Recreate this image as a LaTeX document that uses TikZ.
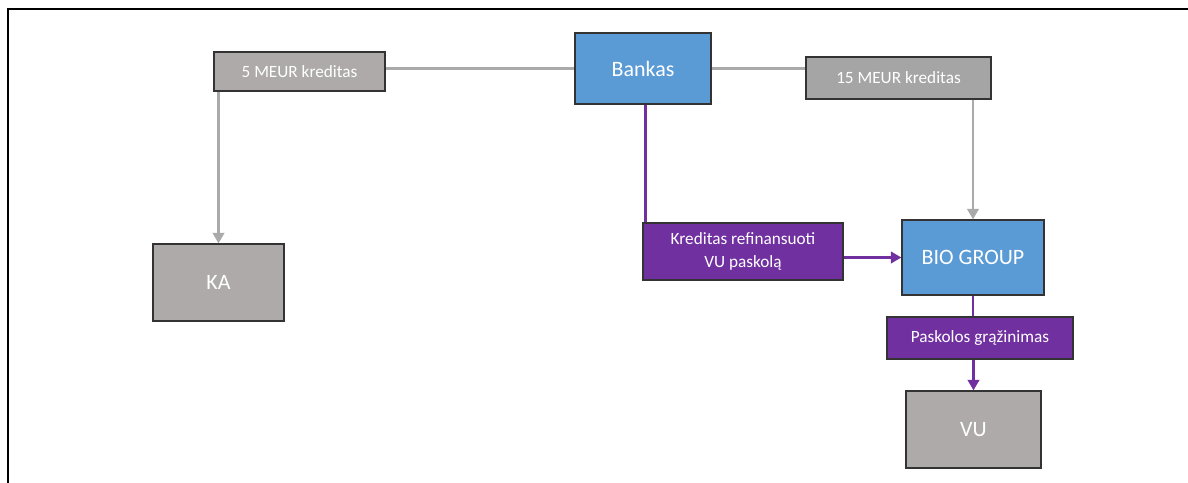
\documentclass[tikz,border=0pt]{standalone}
\usepackage{fontspec}
\setmainfont{Carlito}
\usetikzlibrary{arrows.meta, positioning, calc}
\definecolor{boxgray}{RGB}{174,170,170}
\definecolor{midgray}{RGB}{165,165,165}
\definecolor{linegray}{RGB}{170,170,170}
\definecolor{bankblue}{RGB}{91,155,213}
\definecolor{loanpurple}{RGB}{112,48,160}
\tikzset{
    entbox/.style={rectangle, draw=black!80, line width=0.7pt, fill=boxgray,
                   text=white, align=center, inner sep=2pt, font=\fontsize{12.5}{14}\selectfont},
    bankbox/.style={entbox, fill=bankblue},
    credbox/.style={entbox, font=\fontsize{9.8}{12}\selectfont},
    paybox/.style={entbox, fill=loanpurple, font=\fontsize{9.8}{13}\selectfont},
    grayline/.style={draw=linegray, line width=1.7pt},
    grayarrow/.style={grayline, -{Triangle[length=6pt, width=6.5pt]}},
    purpline/.style={draw=loanpurple, line width=1.7pt},
    purparrow/.style={purpline, -{Triangle[length=6pt, width=6.5pt]}},
}
\begin{document}
\begin{tikzpicture}[x=0.02cm, y=-0.02cm]
    \useasboundingbox (0,0) rectangle (1188,483);
    % frame
    \draw[line width=1.4pt, black] (8,483) -- (8,9) -- (1188,9);

    \node[bankbox, minimum width=2.72cm, minimum height=1.42cm] (bank) at (643,68.5) {Bankas};
    \node[credbox, minimum width=3.42cm, minimum height=0.78cm] (kr5) at (299.5,71.5) {5 MEUR kreditas};
    \node[credbox, fill=midgray, minimum width=3.7cm, minimum height=0.84cm] (kr15) at (898.5,78) {15 MEUR kreditas};
    \node[entbox, minimum width=2.62cm, minimum height=1.54cm] (ka) at (218.5,282.5) {KA};
    \node[paybox, minimum width=4cm, minimum height=1.14cm] (kref) at (743,251.5) {Kreditas refinansuoti\\VU paskolą};
    \node[bankbox, minimum width=2.84cm, minimum height=1.5cm] (bio) at (973,257.5) {BIO GROUP};
    \node[paybox, minimum width=3.72cm, minimum height=0.84cm] (pask) at (980,338) {Paskolos grąžinimas};
    \node[entbox, minimum width=2.7cm, minimum height=1.54cm] (vu) at (973.5,429.5) {VU};

    % credit lines
    \draw[grayline] (kr5.east |- bank.west) -- (bank.west);
    \draw[grayline] (bank.east) -- (bank.east -| kr15.west);
    \draw[grayarrow] (ka.north |- kr5.south) -- (ka.north);
    \draw[grayarrow] (bio.north |- kr15.south) -- (bio.north);

    % refinancing
    \draw[purpline] ([xshift=0.06cm]kref.north west |- bank.south) -- ([xshift=0.06cm]kref.north west);
    \draw[purparrow] (kref.east |- bio.west) -- (bio.west);
    \draw[purpline] (bio.south) -- (bio.south |- pask.north);
    \draw[purparrow] (vu.north |- pask.south) -- (vu.north);
\end{tikzpicture}
\end{document}
